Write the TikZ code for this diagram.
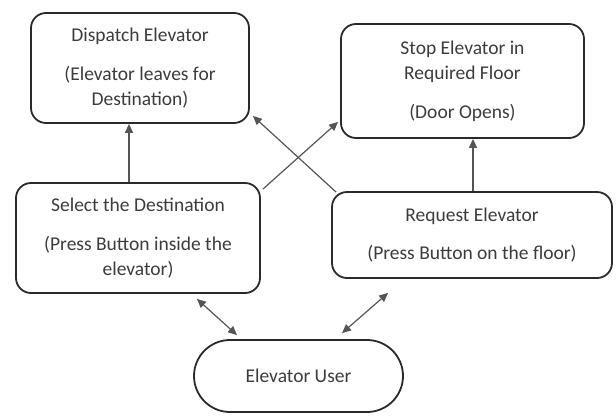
\documentclass[tikz,border=0pt]{standalone}
\usepackage{fontspec}
\setmainfont{Carlito}
\usetikzlibrary{arrows.meta,shapes.misc}
\definecolor{txt}{HTML}{3C3C3C}
\definecolor{edge}{HTML}{2A2A2A}
\definecolor{conn}{HTML}{555555}
\tikzset{
  box/.style={draw=edge, line width=1.8pt, rounded corners=15pt, align=center, text=txt,
    font=\fontsize{19.5}{25}\selectfont, inner sep=0pt},
  user/.style={draw=edge, line width=1.8pt, rounded rectangle, rounded rectangle arc length=180,
    align=center, text=txt, font=\fontsize{19.5}{25}\selectfont, inner sep=0pt},
  arr/.style={draw=conn, line width=1.2pt, -{Triangle[length=9pt,width=8pt]}},
  darr/.style={draw=conn, line width=1.2pt, {Triangle[length=9pt,width=8pt]}-{Triangle[length=9pt,width=8pt]}}
}
\begin{document}
\begin{tikzpicture}[x=1pt,y=-1pt]
\useasboundingbox (0,0) rectangle (616,418);
\node[box, minimum width=218pt, minimum height=110pt] (disp) at (140,68)
  {Dispatch Elevator\\[14pt](Elevator leaves for\\Destination)};
\node[box, minimum width=243pt, minimum height=114pt] (stop) at (462.5,81)
  {Stop Elevator in\\Required Floor\\[14pt](Door Opens)};
\node[box, minimum width=244pt, minimum height=110pt] (sel) at (138,238)
  {Select the Destination\\[14pt](Press Button inside the\\elevator)};
\node[box, minimum width=280pt, minimum height=86pt] (req) at (472,235)
  {Request Elevator\\[13pt](Press Button on the floor)};
\node[user, minimum width=209pt, minimum height=72pt] (usr) at (298.5,376) {Elevator User};
\draw[arr] ([xshift=-9pt]sel.north) -- ([xshift=-11pt]disp.south);
\draw[arr] ([xshift=1pt]req.north) -- ([xshift=10.5pt]stop.south);
\draw[arr] ([shift={(2,7)}]sel.north east) -- ([shift={(-2,-17)}]stop.south west);
\draw[arr] ([shift={(5,1)}]req.north west) -- ([shift={(3,-8)}]disp.south east);
\draw[darr] ([shift={(-64,5)}]sel.south east) -- ([shift={(-61.5,-4)}]usr.north);
\draw[darr] ([shift={(57,14)}]req.south west) -- ([shift={(43.5,-6)}]usr.north);
\end{tikzpicture}
\end{document}
